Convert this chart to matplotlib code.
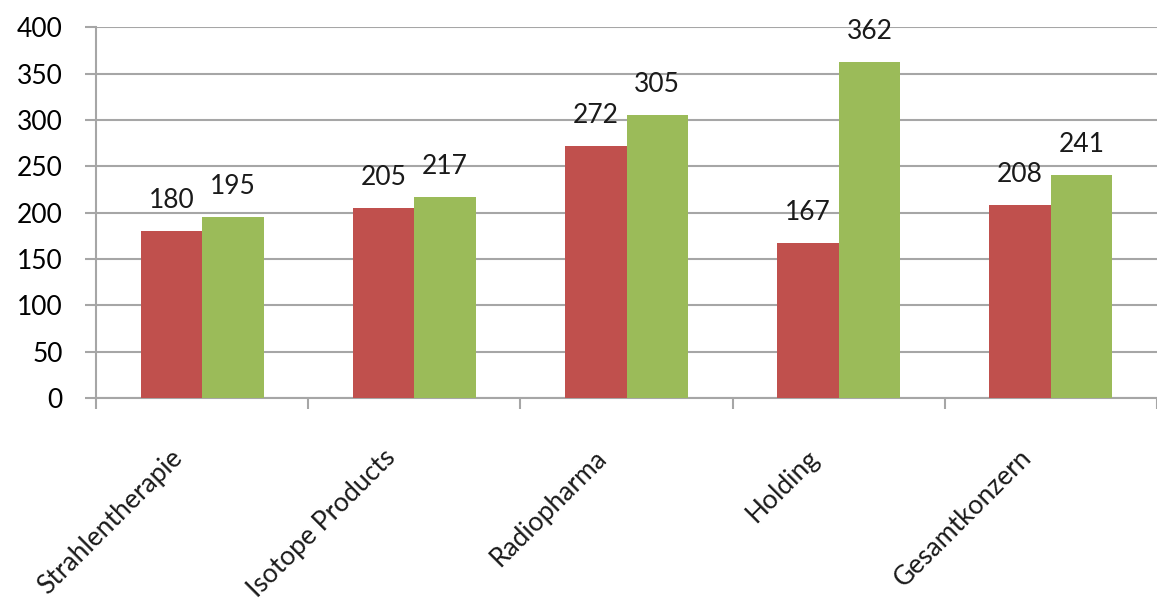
import matplotlib.pyplot as plt
import matplotlib.transforms as mtransforms
import numpy as np

plt.rcParams['font.family'] = ['Lato', 'DejaVu Sans']

categories = ['Strahlentherapie', 'Isotope Products', 'Radiopharma', 'Holding', 'Gesamtkonzern']
series_a = [180, 205, 272, 167, 208]
series_b = [195, 217, 305, 362, 241]

red = '#C0504D'
green = '#9BBB59'
grid_col = '#A6A6A6'
fs = 19

fig = plt.figure(figsize=(11.57, 6.04), dpi=100)
ax = fig.add_axes([0.083, 0.341, 0.917, 0.614])

x = np.arange(len(categories))
w = 0.29
bars_a = ax.bar(x - w / 2, series_a, width=w, color=red, zorder=3)
bars_b = ax.bar(x + w / 2, series_b, width=w, color=green, zorder=3)

for bars in (bars_a, bars_b):
    for b in bars:
        ax.annotate(str(int(b.get_height())), (b.get_x() + b.get_width() / 2, b.get_height()),
                    xytext=(0, 13), textcoords='offset points', ha='center', va='bottom',
                    fontsize=fs, color='#1a1a1a')

ax.set_ylim(0, 400)
ax.set_xlim(-0.5, len(categories) - 0.5)
ax.set_yticks(range(0, 401, 50))
ax.yaxis.grid(True, color=grid_col, linewidth=1.5, zorder=0)
ax.set_axisbelow(True)

# category labels drawn as text so they can sit left/down of the centre like the original
ax.set_xticks(x)
ax.set_xticklabels([])
shift = mtransforms.ScaledTranslation(-32 / 100, -47 / 100, fig.dpi_scale_trans)
for i, name in enumerate(categories):
    ax.text(i, 0, name, transform=ax.get_xaxis_transform() + shift, rotation=45,
            ha='right', va='top', rotation_mode='anchor', fontsize=fs, color='#1a1a1a')
ax.set_xticks(np.arange(-0.5, len(categories) + 0.5, 1), minor=True)
ax.tick_params(axis='x', which='major', length=0)
ax.tick_params(axis='x', which='minor', length=8, width=1.5, color=grid_col)
ax.tick_params(axis='y', length=8, width=1.5, color=grid_col, pad=16, labelsize=fs)

for s in ['top', 'right']:
    ax.spines[s].set_visible(False)
for s in ['left', 'bottom']:
    ax.spines[s].set_color(grid_col)
    ax.spines[s].set_linewidth(1.5)

plt.savefig('out.png', dpi=100)
